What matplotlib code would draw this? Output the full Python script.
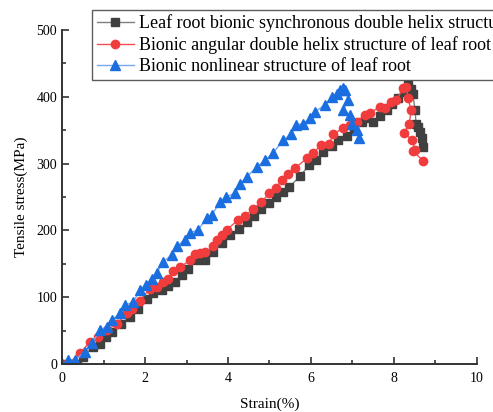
import numpy as np
import matplotlib.pyplot as plt
from matplotlib.ticker import MultipleLocator

plt.rcParams['font.family'] = 'Liberation Serif'
plt.rcParams['mathtext.fontset'] = 'stix'

# Leaf root bionic synchronous double helix structure
sync_strain = [0.00, 0.35, 0.51, 0.75, 0.92, 1.05, 1.20, 1.42, 1.64, 1.84, 2.04, 2.20, 2.40,
               2.56, 2.72, 2.88, 3.04, 3.25, 3.45, 3.65, 3.85, 4.05, 4.27, 4.45, 4.62, 4.80,
               4.98, 5.15, 5.32, 5.48, 5.73, 5.96, 6.12, 6.30, 6.50, 6.66, 6.86, 7.04, 7.22,
               7.36, 7.49, 7.66, 7.82, 7.96, 8.10, 8.24, 8.34, 8.40, 8.45, 8.51, 8.53, 8.58,
               8.63, 8.67, 8.69]
sync_stress = [0, 0, 11, 26, 30, 40, 48, 60, 71, 83, 97, 106, 111, 117, 123, 133, 142, 156,
               156, 168, 181, 193, 202, 212, 222, 232, 241, 250, 258, 265, 281, 298, 305, 318,
               326, 335, 341, 352, 363, 368, 363, 371, 380, 390, 398, 408, 418, 412, 405, 380,
               360, 355, 348, 338, 325]

# Bionic angular double helix structure of leaf root
ang_strain = [0.00, 0.27, 0.43, 0.67, 0.87, 1.08, 1.32, 1.56, 1.68, 1.88, 2.12, 2.28, 2.44,
              2.56, 2.68, 2.84, 3.08, 3.20, 3.33, 3.45, 3.65, 3.73, 3.85, 3.97, 4.25, 4.42,
              4.60, 4.80, 5.00, 5.15, 5.29, 5.45, 5.61, 5.90, 6.06, 6.24, 6.44, 6.54, 6.78,
              6.95, 7.10, 7.30, 7.42, 7.66, 7.78, 7.94, 8.06, 8.22, 8.30, 8.34, 8.41, 8.37,
              8.24, 8.43, 8.51, 8.45, 8.71]
ang_stress = [0, 2, 16, 33, 41, 51, 60, 76, 83, 95, 113, 116, 123, 127, 140, 145, 155, 165,
              166, 167, 176, 186, 193, 201, 216, 222, 232, 242, 256, 263, 275, 284, 293, 308,
              316, 328, 329, 345, 353, 358, 363, 373, 376, 385, 383, 393, 395, 413, 415, 398,
              380, 360, 346, 336, 320, 319, 304]

# Bionic nonlinear structure of leaf root
nl_strain = [0.00, 0.15, 0.31, 0.55, 0.72, 0.92, 1.08, 1.20, 1.40, 1.52, 1.72, 1.88, 2.02,
             2.16, 2.28, 2.44, 2.64, 2.76, 2.96, 3.08, 3.28, 3.49, 3.61, 3.81, 3.96, 4.17,
             4.29, 4.45, 4.69, 4.89, 5.09, 5.33, 5.53, 5.65, 5.81, 5.98, 6.10, 6.34, 6.50,
             6.62, 6.70, 6.78, 6.82, 6.90, 6.78, 6.94, 6.98, 7.10, 7.16]
nl_stress = [0, 6, 6, 18, 31, 51, 56, 66, 76, 88, 93, 111, 118, 128, 136, 153, 163, 176,
             186, 196, 201, 218, 223, 243, 250, 256, 270, 280, 295, 305, 316, 335, 345, 358,
             360, 368, 378, 388, 400, 405, 410, 413, 410, 395, 380, 373, 360, 351, 339]

labels = ['Leaf root bionic synchronous double helix structure',
          'Bionic angular double helix structure of leaf root',
          'Bionic nonlinear structure of leaf root']

fig = plt.figure(figsize=(4.93, 4.12), dpi=100)
ax = fig.add_axes([0.1258, 0.1165, 0.8417, 0.8105])

ax.plot(sync_strain, sync_stress, color='#7f7f7f', lw=1.0, marker='s', ms=5.5,
        mfc='#404040', mec='#404040', label=labels[0])
ax.plot(ang_strain, ang_stress, color='#f25050', lw=1.0, marker='o', ms=6,
        mfc='#f03c3c', mec='#f03c3c', label=labels[1])
ax.plot(nl_strain, nl_stress, color='#7aa8ee', lw=1.0, marker='^', ms=6.5,
        mfc='#1a6ee0', mec='#1a6ee0', label=labels[2])

ax.set_xlim(0, 10)
ax.set_ylim(0, 500)
ax.xaxis.set_major_locator(MultipleLocator(2))
ax.xaxis.set_minor_locator(MultipleLocator(1))
ax.yaxis.set_major_locator(MultipleLocator(100))
ax.yaxis.set_minor_locator(MultipleLocator(50))
ax.tick_params(which='both', direction='in', labelsize=10, width=1.2, color='#333333')
ax.tick_params(which='major', length=5)
ax.tick_params(which='minor', length=3)
ax.tick_params(axis='x', pad=6)
for s in ['top', 'right']:
    ax.spines[s].set_visible(False)
for s in ['left', 'bottom']:
    ax.spines[s].set_linewidth(1.4)
    ax.spines[s].set_color('#333333')

ax.set_xlabel('Strain(%)', fontsize=11, labelpad=9)
ax.set_ylabel('Tensile stress(MPa)', fontsize=11, labelpad=6)

leg = fig.legend(loc='upper left', bbox_to_anchor=(0.1866, 0.976), fontsize=13,
                 frameon=True, fancybox=False, edgecolor='#333333', handlelength=2.1,
                 labelspacing=0.22, borderpad=0.25, handletextpad=0.25, borderaxespad=0)
leg.get_frame().set_linewidth(1.0)

fig.savefig('out.png', dpi=100)
